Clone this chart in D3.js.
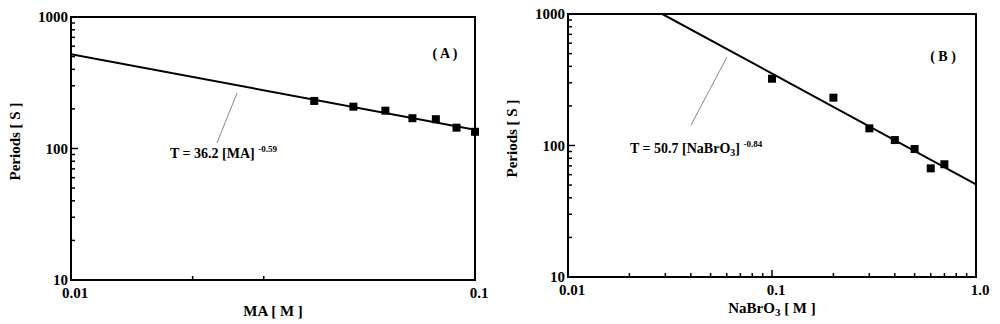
<!DOCTYPE html>
<html>
<head>
<meta charset="utf-8">
<script src="https://cdn.jsdelivr.net/npm/d3@7"></script>
<style>
  body { margin: 0; background: #fff; }
  svg text { font-family: "Liberation Serif", "Times New Roman", serif; font-weight: bold; fill: #000; }
</style>
</head>
<body>
<svg id="chart" width="1000" height="324"></svg>
<script>
// Panel A: period vs MA concentration
const concA = [0.04, 0.05, 0.06, 0.07, 0.08, 0.09, 0.1];
const periodA = [230, 208, 194, 170, 167, 144, 134];
const fitConcA = [0.01, 0.1];
const fitPeriodA = [520, 139];

// Panel B: period vs NaBrO3 concentration
const concB = [0.1, 0.2, 0.3, 0.4, 0.5, 0.6, 0.7];
const periodB = [322, 231, 135, 110, 94, 67, 72];
const fitConcB = [0.029, 1.0];
const fitPeriodB = [1000, 50.7];

const yTicks = [10, 100, 1000];
const xTicksA = [0.01, 0.1];
const xTickLabelsA = ["0.01", "0.1"];
const xMinorA = [0.02, 0.03];
const xTicksB = [0.01, 0.1, 1.0];
const xTickLabelsB = ["0.01", "0.1", "1.0"];

const svg = d3.select("#chart");

function drawPanel(opts) {
  const { left, right, top, bottom } = opts.frame;
  const x = d3.scaleLog().domain(opts.xDomain).range([left, right]);
  const y = d3.scaleLog().domain([10, 1000]).range([bottom, top]);

  const g = svg.append("g");

  // clip for fit line
  const clipId = "clip" + opts.id;
  g.append("clipPath")
    .attr("id", clipId)
    .append("rect")
    .attr("x", left)
    .attr("y", top)
    .attr("width", right - left)
    .attr("height", bottom - top);

  // y minor + major ticks (inside, on left spine)
  const yMinor = [];
  [10, 100].forEach((d) => {
    for (let k = 2; k <= 9; k++) yMinor.push(d * k);
  });
  g.selectAll(".ymin")
    .data(yMinor)
    .enter()
    .append("line")
    .attr("x1", left)
    .attr("x2", left + 4)
    .attr("y1", (d) => y(d))
    .attr("y2", (d) => y(d))
    .attr("stroke", "#000")
    .attr("stroke-width", 1.5);
  g.selectAll(".ymaj")
    .data(yTicks)
    .enter()
    .append("line")
    .attr("x1", left)
    .attr("x2", left + 7)
    .attr("y1", (d) => y(d))
    .attr("y2", (d) => y(d))
    .attr("stroke", "#000")
    .attr("stroke-width", 1.5);
  g.selectAll(".ylab")
    .data(yTicks)
    .enter()
    .append("text")
    .attr("x", left - 3)
    .attr("y", (d) => y(d) + 5)
    .attr("text-anchor", "end")
    .attr("font-size", 15)
    .text((d) => d);

  // x minor + major ticks (inside, bottom)
  g.selectAll(".xmin")
    .data(opts.xMinor)
    .enter()
    .append("line")
    .attr("x1", (d) => x(d))
    .attr("x2", (d) => x(d))
    .attr("y1", bottom)
    .attr("y2", bottom - 4)
    .attr("stroke", "#000")
    .attr("stroke-width", 1.5);
  g.selectAll(".xmaj")
    .data(opts.xTicks)
    .enter()
    .append("line")
    .attr("x1", (d) => x(d))
    .attr("x2", (d) => x(d))
    .attr("y1", bottom)
    .attr("y2", bottom - 7)
    .attr("stroke", "#000")
    .attr("stroke-width", 1.5);
  g.selectAll(".xlab")
    .data(opts.xTicks)
    .enter()
    .append("text")
    .attr("x", (d) => x(d) + 4)
    .attr("y", bottom + 18)
    .attr("text-anchor", "middle")
    .attr("font-size", 15)
    .text((d, i) => opts.xTickLabels[i]);

  // frame
  g.append("rect")
    .attr("x", left)
    .attr("y", top)
    .attr("width", right - left)
    .attr("height", bottom - top)
    .attr("fill", "none")
    .attr("stroke", "#000")
    .attr("stroke-width", 2);

  // fit line
  const line = d3
    .line()
    .x((d) => x(d[0]))
    .y((d) => y(d[1]));
  g.append("path")
    .attr("clip-path", `url(#${clipId})`)
    .attr("d", line(d3.zip(opts.fitX, opts.fitY)))
    .attr("fill", "none")
    .attr("stroke", "#000")
    .attr("stroke-width", 2);

  // markers
  const s = 8;
  g.selectAll(".pt")
    .data(d3.zip(opts.xs, opts.ys))
    .enter()
    .append("rect")
    .attr("x", (d) => x(d[0]) - s / 2)
    .attr("y", (d) => y(d[1]) - s / 2)
    .attr("width", s)
    .attr("height", s)
    .attr("fill", "#000");

  // panel tag
  g.append("text")
    .attr("x", opts.tag.x)
    .attr("y", opts.tag.y)
    .attr("text-anchor", "middle")
    .attr("font-size", 14)
    .attr("xml:space", "preserve")
    .text(opts.tag.text);

  // leader line to the equation
  g.append("line")
    .attr("x1", opts.leader[0])
    .attr("y1", opts.leader[1])
    .attr("x2", opts.leader[2])
    .attr("y2", opts.leader[3])
    .attr("stroke", "#888")
    .attr("stroke-width", 1);

  // equation
  const eq = g
    .append("text")
    .attr("x", opts.eq.x)
    .attr("y", opts.eq.y)
    .attr("font-size", 14);
  opts.eq.build(eq);

  // axis titles
  g.append("text")
    .attr("transform", `translate(${left - 51},${(top + bottom) / 2 - 7}) rotate(-90)`)
    .attr("text-anchor", "middle")
    .attr("font-size", 15)
    .attr("xml:space", "preserve")
    .text("Periods [ S ]");

  const xt = g
    .append("text")
    .attr("x", (left + right) / 2)
    .attr("y", bottom + 36)
    .attr("text-anchor", "middle")
    .attr("font-size", 15)
    .attr("xml:space", "preserve");
  opts.xTitle(xt);
}

drawPanel({
  id: "A",
  frame: { left: 71, right: 475, top: 17, bottom: 280 },
  xDomain: [0.01, 0.1],
  xTicks: xTicksA,
  xTickLabels: xTickLabelsA,
  xMinor: xMinorA,
  xs: concA,
  ys: periodA,
  fitX: fitConcA,
  fitY: fitPeriodA,
  tag: { x: 445, y: 58, text: "( A )" },
  leader: [237, 93, 217, 143],
  eq: {
    x: 170,
    y: 158,
    build: (t) => {
      t.append("tspan").text("T = 36.2 [MA] ");
      t.append("tspan").attr("font-size", 9).attr("dy", -6).text("-0.59");
    },
  },
  xTitle: (t) => t.text("MA [ M ]"),
});

const xMinorB = [];
[0.01, 0.1].forEach((d) => {
  for (let k = 2; k <= 9; k++) xMinorB.push(d * k);
});

drawPanel({
  id: "B",
  frame: { left: 568, right: 976, top: 14, bottom: 277 },
  xDomain: [0.01, 1.0],
  xTicks: xTicksB,
  xTickLabels: xTickLabelsB,
  xMinor: xMinorB,
  xs: concB,
  ys: periodB,
  fitX: fitConcB,
  fitY: fitPeriodB,
  tag: { x: 943, y: 61, text: "( B )" },
  leader: [727, 57, 691, 125],
  eq: {
    x: 630,
    y: 153,
    build: (t) => {
      t.append("tspan").text("T = 50.7 [NaBrO");
      t.append("tspan").attr("font-size", 10).attr("dy", 3).text("3");
      t.append("tspan").attr("dy", -3).text("] ");
      t.append("tspan").attr("font-size", 9).attr("dy", -6).text("-0.84");
    },
  },
  xTitle: (t) => {
    t.append("tspan").text("NaBrO");
    t.append("tspan").attr("font-size", 11).attr("dy", 3).text("3");
    t.append("tspan").attr("dy", -3).text(" [ M ]");
  },
});
</script>
</body>
</html>
